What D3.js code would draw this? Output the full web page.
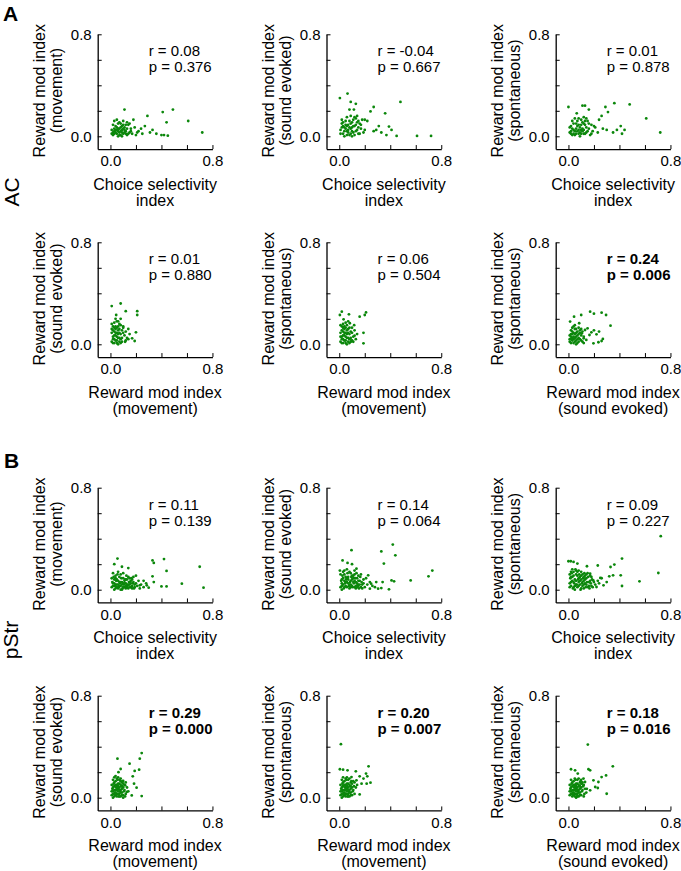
<!DOCTYPE html>
<html>
<head>
<meta charset="utf-8">
<script src="https://cdn.jsdelivr.net/npm/d3@7"></script>
<style>
  body { margin: 0; background: #fff; }
  text { font-family: "Liberation Sans", Arial, Helvetica, sans-serif; }
</style>
</head>
<body>
<div id="chart"></div>
<script>
// each point is [x, y]

// AC: choice selectivity vs reward mod index (movement)
const acCsiMov = [[0.11,0.21],[0.41,0.19],[0.49,0.21],[0.29,0.16],[0.44,0.11],[0.61,0.12],[0.72,0.03],[0.18,0.13],[0.27,0.08],[0.33,0.05],[0.40,0.01],[0.45,0.005],[0.36,0.02],[0.31,0.03],[0.25,0.02],[0.22,0.04],[0.20,0.01],[0.42,0.01],
  [0.02,0.01],[0.03,0.04],[0.04,0.08],[0.05,0.02],[0.06,0.06],[0.07,0.03],[0.08,0.10],[0.09,0.05],[0.10,0.02],[0.11,0.07],[0.12,0.04],[0.13,0.01],[0.14,0.09],[0.15,0.03],[0.16,0.06],[0.17,0.02],[0.01,0.05],[0.02,0.09],[0.03,0.12],[0.04,0.03],[0.05,0.07],[0.06,0.00],[0.07,0.11],[0.08,0.04],[0.09,0.08],[0.10,0.12],[0.11,0.03],[0.12,0.09],[0.13,0.06],[0.14,0.02],[0.15,0.10],[0.03,0.06],[0.05,0.13],[0.07,0.06],[0.09,0.00],[0.11,0.05],[0.13,0.11],[0.02,0.03],[0.06,0.10],[0.10,0.06],[0.04,0.05],[0.08,0.01],[0.12,0.02],[0.16,0.04],[0.19,0.07],[0.21,0.03],[0.24,0.06],[0.06,0.04],[0.08,0.07],[0.10,0.09],[0.03,0.02],[0.05,0.05],[0.01,0.02],[0.07,0.01],[0.09,0.03]];

// AC: choice selectivity vs reward mod index (sound evoked)
const acCsiSnd = [[0.005,0.30],[0.065,0.335],[0.09,0.27],[0.13,0.255],[0.08,0.21],[0.115,0.21],[0.27,0.23],[0.36,0.18],[0.48,0.27],[0.245,0.195],[0.20,0.13],[0.31,0.08],[0.39,0.076],[0.41,0.05],[0.45,0.003],[0.61,0.003],[0.72,0.003],[0.37,0.01],[0.27,0.04],[0.29,0.05],[0.33,0.03],
  [0.01,0.05],[0.02,0.10],[0.03,0.02],[0.04,0.07],[0.05,0.12],[0.06,0.04],[0.07,0.09],[0.08,0.01],[0.09,0.06],[0.10,0.11],[0.11,0.03],[0.12,0.08],[0.13,0.14],[0.14,0.05],[0.15,0.02],[0.16,0.10],[0.17,0.06],[0.18,0.13],[0.19,0.03],[0.02,0.13],[0.03,0.08],[0.04,0.00],[0.05,0.06],[0.06,0.15],[0.07,0.03],[0.08,0.12],[0.09,0.02],[0.10,0.07],[0.11,0.13],[0.12,0.01],[0.13,0.09],[0.14,0.11],[0.15,0.07],[0.16,0.02],[0.05,0.09],[0.07,0.05],[0.09,0.10],[0.11,0.08],[0.13,0.04],[0.03,0.11],[0.06,0.01],[0.08,0.07],[0.10,0.04],[0.12,0.15],[0.04,0.04],[0.02,0.07],[0.15,0.12],[0.17,0.09],[0.20,0.05],[0.22,0.12],[0.01,0.02],[0.06,0.08],[0.10,0.00],[0.14,0.16],[0.09,0.16]];

// AC: choice selectivity vs reward mod index (spontaneous)
const acCsiSpo = [[0.0,0.23],[0.11,0.24],[0.13,0.24],[0.16,0.21],[0.29,0.23],[0.31,0.19],[0.36,0.26],[0.48,0.25],[0.61,0.14],[0.72,0.03],[0.26,0.16],[0.24,0.13],[0.20,0.08],[0.41,0.08],[0.38,0.05],[0.42,0.02],[0.44,0.05],[0.30,0.05],[0.35,0.03],[0.27,0.06],[0.065,0.18],[0.12,0.15],
  [0.01,0.03],[0.02,0.08],[0.03,0.12],[0.04,0.05],[0.05,0.01],[0.06,0.10],[0.07,0.04],[0.08,0.14],[0.09,0.07],[0.10,0.02],[0.11,0.11],[0.12,0.05],[0.13,0.09],[0.14,0.03],[0.15,0.12],[0.16,0.06],[0.17,0.01],[0.18,0.09],[0.02,0.04],[0.03,0.06],[0.04,0.10],[0.05,0.14],[0.06,0.02],[0.07,0.08],[0.08,0.05],[0.09,0.00],[0.10,0.13],[0.11,0.06],[0.12,0.02],[0.13,0.12],[0.14,0.07],[0.15,0.04],[0.01,0.07],[0.04,0.02],[0.06,0.06],[0.08,0.09],[0.10,0.05],[0.12,0.10],[0.03,0.01],[0.05,0.04],[0.07,0.12],[0.09,0.03],[0.11,0.04],[0.13,0.02],[0.16,0.10],[0.19,0.04],[0.21,0.07],[0.23,0.03],[0.02,0.02],[0.08,0.02],[0.10,0.09],[0.14,0.14],[0.18,0.02]];

// AC: reward mod index movement vs sound evoked
const acMovSnd = [[0.01,0.30],[0.08,0.32],[0.12,0.26],[0.21,0.26],[0.21,0.23],[0.045,0.23],[0.08,0.20],[0.10,0.14],[0.20,0.094],[0.17,0.047],[0.19,0.026],[0.14,0.04],[0.115,0.02],
  [0.01,0.02],[0.02,0.06],[0.03,0.10],[0.04,0.14],[0.05,0.03],[0.06,0.08],[0.07,0.12],[0.08,0.01],[0.09,0.05],[0.10,0.09],[0.01,0.16],[0.02,0.11],[0.03,0.04],[0.04,0.07],[0.05,0.18],[0.06,0.00],[0.07,0.05],[0.08,0.15],[0.09,0.11],[0.02,0.01],[0.03,0.07],[0.04,0.12],[0.05,0.09],[0.06,0.14],[0.07,0.02],[0.08,0.08],[0.03,0.17],[0.04,0.03],[0.05,0.06],[0.06,0.11],[0.02,0.14],[0.01,0.09],[0.07,0.16],[0.03,0.01],[0.05,0.13],[0.09,0.02],[0.10,0.13],[0.11,0.07],[0.12,0.10],[0.13,0.05],[0.14,0.12],[0.12,0.03],[0.15,0.08],[0.04,0.20],[0.02,0.04],[0.06,0.05],[0.08,0.04],[0.04,0.09],[0.03,0.13],[0.07,0.09],[0.05,0.01],[0.06,0.18],[0.01,0.12]];

// AC: reward mod index movement vs spontaneous
const acMovSpo = [[0.02,0.256],[0.005,0.23],[0.076,0.235],[0.034,0.196],[0.16,0.217],[0.20,0.23],[0.21,0.25],[0.19,0.09],[0.12,0.068],[0.19,0.008],[0.096,0.026],[0.117,0.15],[0.083,0.165],
  [0.01,0.02],[0.02,0.06],[0.03,0.10],[0.04,0.14],[0.05,0.03],[0.06,0.08],[0.07,0.12],[0.08,0.01],[0.09,0.05],[0.10,0.09],[0.01,0.15],[0.02,0.11],[0.03,0.04],[0.04,0.07],[0.05,0.17],[0.06,0.00],[0.07,0.05],[0.08,0.13],[0.09,0.10],[0.02,0.01],[0.03,0.07],[0.04,0.12],[0.05,0.09],[0.06,0.15],[0.07,0.02],[0.08,0.08],[0.03,0.16],[0.04,0.03],[0.05,0.06],[0.06,0.11],[0.02,0.14],[0.01,0.09],[0.07,0.18],[0.03,0.01],[0.05,0.13],[0.09,0.02],[0.10,0.13],[0.11,0.06],[0.12,0.11],[0.13,0.04],[0.14,0.08],[0.11,0.02],[0.02,0.04],[0.06,0.05],[0.08,0.04],[0.04,0.09],[0.03,0.13],[0.07,0.09],[0.05,0.01],[0.01,0.06],[0.10,0.03]];

// AC: reward mod index sound evoked vs spontaneous
const acSndSpo = [[0.044,0.217],[0.013,0.178],[0.084,0.165],[0.10,0.23],[0.17,0.256],[0.20,0.24],[0.26,0.248],[0.295,0.23],[0.33,0.146],[0.27,0.042],[0.235,0.016],[0.196,0.008],[0.26,0.026],[0.20,0.11],[0.18,0.094],[0.15,0.125],[0.13,0.112],[0.105,0.086],[0.22,0.078],[0.24,0.10],[0.165,0.073],[0.12,0.047],[0.14,0.034],
  [0.01,0.02],[0.02,0.06],[0.03,0.10],[0.04,0.04],[0.05,0.08],[0.06,0.12],[0.07,0.01],[0.08,0.05],[0.09,0.09],[0.10,0.03],[0.01,0.07],[0.02,0.11],[0.03,0.03],[0.04,0.14],[0.05,0.02],[0.06,0.06],[0.07,0.10],[0.08,0.13],[0.09,0.04],[0.10,0.07],[0.11,0.02],[0.02,0.01],[0.03,0.05],[0.04,0.09],[0.05,0.12],[0.06,0.00],[0.07,0.07],[0.08,0.02],[0.02,0.04],[0.03,0.08],[0.04,0.06],[0.05,0.05],[0.06,0.03],[0.07,0.04],[0.01,0.04],[0.12,0.06],[0.11,0.10],[0.09,0.11],[0.02,0.08],[0.03,0.13],[0.05,0.15],[0.04,0.01],[0.08,0.08],[0.10,0.12],[0.12,0.01],[0.06,0.09]];

// pStr: choice selectivity vs reward mod index (movement)
const pstrCsiMov = [[0.055,0.244],[0.03,0.20],[0.09,0.18],[0.14,0.17],[0.20,0.11],[0.26,0.07],[0.285,0.034],[0.33,0.23],[0.34,0.21],[0.42,0.24],[0.44,0.147],[0.33,0.105],[0.34,0.06],[0.40,0.026],[0.44,0.026],[0.56,0.047],[0.70,0.18],[0.73,0.016],[0.23,0.034],[0.30,0.016],
  [0.01,0.02],[0.02,0.05],[0.03,0.08],[0.04,0.01],[0.05,0.04],[0.06,0.07],[0.07,0.10],[0.08,0.03],[0.09,0.06],[0.10,0.09],[0.11,0.02],[0.12,0.05],[0.13,0.08],[0.14,0.01],[0.15,0.04],[0.16,0.07],[0.17,0.03],[0.18,0.06],[0.19,0.02],[0.20,0.05],
  [0.015,0.06],[0.025,0.10],[0.035,0.03],[0.045,0.07],[0.055,0.12],[0.065,0.02],[0.075,0.05],[0.085,0.09],[0.095,0.01],[0.105,0.04],[0.115,0.08],[0.125,0.11],[0.135,0.03],[0.145,0.06],[0.155,0.02],[0.165,0.09],[0.175,0.05],[0.185,0.01],[0.21,0.03],[0.22,0.07],
  [0.02,0.13],[0.03,0.00],[0.04,0.09],[0.05,0.02],[0.06,0.04],[0.07,0.06],[0.08,0.12],[0.09,0.00],[0.10,0.05],[0.11,0.07],[0.12,0.01],[0.13,0.04],[0.14,0.10],[0.15,0.06],[0.16,0.02],[0.17,0.08],
  [0.01,0.09],[0.03,0.05],[0.05,0.08],[0.07,0.03],[0.09,0.04],[0.11,0.05],[0.13,0.02],[0.15,0.09],[0.17,0.01],[0.24,0.04],[0.26,0.02],[0.28,0.05],[0.02,0.03],[0.04,0.04],[0.06,0.01],[0.08,0.06],[0.10,0.02],[0.12,0.08],[0.14,0.04],[0.16,0.05],[0.06,0.14],[0.04,0.11],[0.10,0.13],[0.12,0.03],[0.08,0.00],[0.18,0.10],[0.19,0.04],[0.23,0.01]];

// pStr: choice selectivity vs reward mod index (sound evoked)
const pstrCsiSnd = [[0.096,0.31],[0.026,0.23],[0.065,0.21],[0.10,0.20],[0.33,0.30],[0.42,0.354],[0.44,0.27],[0.35,0.205],[0.005,0.15],[0.135,0.165],[0.227,0.113],[0.25,0.047],[0.29,0.06],[0.34,0.06],[0.41,0.073],[0.43,0.066],[0.39,0.003],[0.33,0.013],[0.305,0.008],[0.24,0.008],[0.56,0.073],[0.70,0.105],[0.73,0.15],
  [0.01,0.02],[0.02,0.05],[0.03,0.09],[0.04,0.12],[0.05,0.03],[0.06,0.06],[0.07,0.10],[0.08,0.01],[0.09,0.04],[0.10,0.08],[0.11,0.11],[0.12,0.02],[0.13,0.06],[0.14,0.09],[0.15,0.03],[0.16,0.07],[0.17,0.12],[0.18,0.04],[0.19,0.08],[0.20,0.02],
  [0.015,0.07],[0.025,0.11],[0.035,0.01],[0.045,0.05],[0.055,0.08],[0.065,0.13],[0.075,0.03],[0.085,0.06],[0.095,0.10],[0.105,0.02],[0.115,0.05],[0.125,0.09],[0.135,0.13],[0.145,0.04],[0.155,0.01],[0.165,0.10],[0.175,0.06],[0.21,0.09],[0.22,0.04],[0.24,0.06],
  [0.02,0.00],[0.03,0.04],[0.04,0.07],[0.05,0.10],[0.06,0.02],[0.07,0.05],[0.08,0.14],[0.09,0.07],[0.10,0.03],[0.11,0.06],[0.12,0.12],[0.13,0.01],[0.14,0.05],[0.15,0.11],[0.01,0.12],[0.03,0.14],[0.05,0.06],[0.07,0.08],[0.09,0.02],[0.11,0.09],[0.13,0.03],[0.15,0.07],[0.17,0.02],[0.19,0.05],[0.02,0.03],[0.04,0.02],[0.06,0.09],[0.08,0.04],[0.10,0.11],[0.12,0.07],[0.14,0.02],[0.16,0.04],[0.18,0.01],[0.06,0.16],[0.04,0.15],[0.26,0.03],[0.28,0.02],[0.12,0.15],[0.09,0.13],[0.02,0.08]];

// pStr: choice selectivity vs reward mod index (spontaneous)
const pstrCsiSpo = [[0.0,0.223],[0.018,0.223],[0.04,0.218],[0.07,0.205],[0.145,0.184],[0.23,0.19],[0.33,0.178],[0.36,0.197],[0.42,0.244],[0.724,0.42],[0.705,0.131],[0.557,0.066],[0.42,0.029],[0.41,0.113],[0.35,0.113],[0.32,0.105],[0.30,0.06],[0.275,0.034],[0.25,0.092],[0.22,0.021],[0.195,0.073],[0.17,0.126],
  [0.01,0.02],[0.02,0.06],[0.03,0.10],[0.04,0.14],[0.05,0.03],[0.06,0.07],[0.07,0.11],[0.08,0.15],[0.09,0.04],[0.10,0.08],[0.11,0.12],[0.12,0.01],[0.13,0.05],[0.14,0.09],[0.15,0.13],[0.16,0.03],[0.17,0.07],[0.18,0.10],[0.19,0.02],[0.20,0.06],
  [0.015,0.09],[0.025,0.13],[0.035,0.01],[0.045,0.05],[0.055,0.16],[0.065,0.04],[0.075,0.08],[0.085,0.12],[0.095,0.00],[0.105,0.05],[0.115,0.09],[0.125,0.13],[0.135,0.02],[0.145,0.06],[0.155,0.10],[0.165,0.01],[0.175,0.05],[0.185,0.08],[0.21,0.04],[0.23,0.07],
  [0.02,0.03],[0.03,0.07],[0.04,0.11],[0.05,0.00],[0.06,0.12],[0.07,0.02],[0.08,0.06],[0.09,0.10],[0.10,0.14],[0.11,0.03],[0.12,0.07],[0.13,0.11],[0.14,0.04],[0.01,0.05],[0.01,0.12],[0.03,0.16],[0.05,0.08],[0.07,0.14],[0.09,0.07],[0.11,0.06],[0.13,0.08],[0.15,0.02],[0.17,0.11],[0.02,0.10],[0.04,0.02],[0.06,0.04],[0.08,0.09],[0.10,0.01],[0.12,0.10],[0.14,0.12],[0.16,0.06],[0.18,0.03],[0.06,0.15],[0.08,0.03],[0.10,0.11],[0.12,0.04],[0.04,0.06],[0.02,0.14],[0.24,0.05],[0.26,0.09]];

// pStr: reward mod index movement vs sound evoked
const pstrMovSnd = [[0.055,0.306],[0.245,0.35],[0.23,0.306],[0.15,0.267],[0.19,0.21],[0.225,0.22],[0.08,0.225],[0.063,0.20],[0.175,0.168],[0.185,0.11],[0.205,0.079],[0.167,0.018],[0.245,0.013],[0.115,0.097],[0.128,0.045],[0.10,0.131],
  [0.01,0.02],[0.02,0.05],[0.03,0.09],[0.04,0.13],[0.05,0.03],[0.06,0.07],[0.07,0.11],[0.08,0.15],[0.09,0.04],[0.10,0.08],[0.01,0.10],[0.02,0.14],[0.03,0.01],[0.04,0.06],[0.05,0.10],[0.06,0.16],[0.07,0.03],[0.08,0.06],[0.09,0.12],[0.10,0.02],
  [0.015,0.07],[0.025,0.11],[0.035,0.04],[0.045,0.08],[0.055,0.14],[0.065,0.01],[0.075,0.05],[0.085,0.09],[0.095,0.13],[0.105,0.05],[0.115,0.01],[0.02,0.00],[0.03,0.06],[0.04,0.10],[0.05,0.15],[0.06,0.03],[0.07,0.08],[0.08,0.01],[0.09,0.07],[0.10,0.11],
  [0.02,0.08],[0.03,0.12],[0.04,0.02],[0.05,0.06],[0.06,0.11],[0.07,0.14],[0.08,0.04],[0.09,0.09],[0.11,0.06],[0.12,0.03],[0.13,0.08],[0.01,0.05],[0.03,0.16],[0.05,0.01],[0.07,0.06],[0.09,0.02],[0.11,0.10],[0.04,0.04],[0.06,0.05],[0.08,0.10],[0.02,0.03],[0.03,0.03],[0.05,0.08],[0.07,0.01],[0.06,0.09],[0.04,0.17],[0.08,0.13],[0.10,0.00],[0.12,0.12],[0.14,0.05]];

// pStr: reward mod index movement vs spontaneous
const pstrMovSpo = [[0.013,0.42],[0.005,0.223],[0.03,0.22],[0.065,0.215],[0.13,0.207],[0.16,0.168],[0.19,0.15],[0.22,0.168],[0.23,0.246],[0.21,0.189],[0.245,0.118],[0.215,0.11],[0.175,0.11],[0.16,0.026],[0.135,0.136],[0.096,0.162],
  [0.01,0.02],[0.02,0.05],[0.03,0.09],[0.04,0.13],[0.05,0.03],[0.06,0.07],[0.07,0.11],[0.08,0.15],[0.09,0.04],[0.10,0.08],[0.01,0.10],[0.02,0.14],[0.03,0.01],[0.04,0.06],[0.05,0.10],[0.06,0.16],[0.07,0.03],[0.08,0.06],[0.09,0.12],[0.10,0.02],
  [0.015,0.07],[0.025,0.11],[0.035,0.04],[0.045,0.08],[0.055,0.14],[0.065,0.01],[0.075,0.05],[0.085,0.09],[0.095,0.13],[0.105,0.05],[0.115,0.09],[0.02,0.00],[0.03,0.06],[0.04,0.10],[0.05,0.15],[0.06,0.03],[0.07,0.08],[0.08,0.01],[0.09,0.07],[0.10,0.11],
  [0.02,0.08],[0.03,0.12],[0.04,0.02],[0.05,0.06],[0.06,0.11],[0.07,0.14],[0.08,0.04],[0.09,0.09],[0.11,0.06],[0.12,0.12],[0.13,0.08],[0.01,0.05],[0.03,0.16],[0.05,0.01],[0.07,0.06],[0.09,0.02],[0.11,0.13],[0.04,0.04],[0.06,0.05],[0.08,0.10],[0.02,0.03],[0.03,0.03],[0.05,0.08],[0.07,0.01],[0.06,0.09],[0.12,0.03],[0.14,0.10]];

// pStr: reward mod index sound evoked vs spontaneous
const pstrSndSpo = [[0.152,0.417],[0.348,0.246],[0.157,0.223],[0.17,0.215],[0.02,0.223],[0.052,0.215],[0.073,0.189],[0.26,0.162],[0.295,0.175],[0.235,0.123],[0.196,0.136],[0.21,0.084],[0.23,0.076],[0.30,0.031],[0.13,0.123],[0.105,0.11],[0.144,0.07],[0.17,0.058],[0.118,0.15],
  [0.01,0.02],[0.02,0.05],[0.03,0.09],[0.04,0.13],[0.05,0.03],[0.06,0.07],[0.07,0.11],[0.08,0.15],[0.09,0.04],[0.10,0.08],[0.11,0.12],[0.01,0.10],[0.02,0.14],[0.03,0.01],[0.04,0.06],[0.05,0.10],[0.06,0.00],[0.07,0.03],[0.08,0.06],[0.09,0.12],[0.10,0.02],
  [0.015,0.07],[0.025,0.11],[0.035,0.04],[0.045,0.08],[0.055,0.14],[0.065,0.01],[0.075,0.05],[0.085,0.09],[0.095,0.13],[0.105,0.05],[0.115,0.09],[0.125,0.03],[0.03,0.06],[0.04,0.10],[0.05,0.15],[0.06,0.03],[0.07,0.08],[0.08,0.01],[0.09,0.07],[0.10,0.11],
  [0.02,0.08],[0.03,0.12],[0.04,0.02],[0.05,0.06],[0.06,0.11],[0.07,0.14],[0.08,0.04],[0.09,0.09],[0.11,0.06],[0.12,0.10],[0.13,0.07],[0.01,0.05],[0.05,0.01],[0.07,0.06],[0.09,0.02],[0.04,0.04],[0.06,0.05],[0.08,0.10],[0.02,0.03],[0.03,0.03],[0.05,0.08],[0.07,0.01],[0.06,0.09],[0.12,0.01],[0.14,0.04],[0.10,0.14]];

const panelPoints = [acCsiMov, acCsiSnd, acCsiSpo, acMovSnd, acMovSpo, acSndSpo,
                     pstrCsiMov, pstrCsiSnd, pstrCsiSpo, pstrMovSnd, pstrMovSpo, pstrSndSpo];

// axis labels for one area (same for AC and pStr)
const xLabels = [["Choice selectivity", "index"], ["Choice selectivity", "index"], ["Choice selectivity", "index"],
                 ["Reward mod index", "(movement)"], ["Reward mod index", "(movement)"], ["Reward mod index", "(sound evoked)"]];
const yLabels = [["Reward mod index", "(movement)"], ["Reward mod index", "(sound evoked)"], ["Reward mod index", "(spontaneous)"],
                 ["Reward mod index", "(sound evoked)"], ["Reward mod index", "(spontaneous)"], ["Reward mod index", "(spontaneous)"]];

const rValues = ["0.08", "-0.04", "0.01", "0.01", "0.06", "0.24", "0.11", "0.14", "0.09", "0.29", "0.20", "0.18"];
const pValues = ["0.376", "0.667", "0.878", "0.880", "0.504", "0.006", "0.139", "0.064", "0.227", "0.000", "0.007", "0.016"];
const tickValues = [0, 0.2, 0.4, 0.6, 0.8];

const width = 681, height = 871;
const colLeft = [97.7, 326.5, 555.7];
const rowTop = [34.3, 242.3, 487.7, 695.7];
const side = 114.75;
const dotColor = "#0b870b";

const svg = d3.select("#chart").append("svg")
  .attr("width", width)
  .attr("height", height)
  .style("display", "block")
  .style("background", "#fff");

const x = d3.scaleLinear().domain([-0.1, 0.8]).range([0, side]);
const y = d3.scaleLinear().domain([-0.1, 0.8]).range([side, 0]);
const tickFmt = d => (d === 0 || d === 0.8) ? d.toFixed(1) : "";

panelPoints.forEach((pts, i) => {
  const row = Math.floor(i / 3), col = i % 3;
  const g = svg.append("g").attr("transform", `translate(${colLeft[col]},${rowTop[row]})`);

  const xAxis = g.append("g")
    .attr("transform", `translate(0,${side})`)
    .call(d3.axisBottom(x).tickValues(tickValues).tickFormat(tickFmt).tickSize(-4).tickSizeOuter(0).tickPadding(6.5));
  const yAxis = g.append("g")
    .call(d3.axisLeft(y).tickValues(tickValues).tickFormat(tickFmt).tickSize(-4).tickSizeOuter(0).tickPadding(6));

  [xAxis, yAxis].forEach(a => {
    a.attr("font-size", 15).attr("font-family", null);
    a.select(".domain").attr("stroke", "#000").attr("stroke-width", 1.3);
    a.selectAll(".tick line").attr("stroke", "#000").attr("stroke-width", 1);
    a.selectAll(".tick text").attr("fill", "#000");
  });

  g.selectAll("circle")
    .data(pts)
    .join("circle")
    .attr("cx", d => x(d[0]))
    .attr("cy", d => y(d[1]))
    .attr("r", 1.4)
    .attr("fill", dotColor);

  const bold = +pValues[i] < 0.05;
  g.append("text")
    .attr("x", 51).attr("y", 22)
    .attr("font-size", 15)
    .attr("font-weight", bold ? "bold" : "normal")
    .text(`r = ${rValues[i]}`);
  g.append("text")
    .attr("x", 51).attr("y", 38)
    .attr("font-size", 15)
    .attr("font-weight", bold ? "bold" : "normal")
    .text(`p = ${pValues[i]}`);

  // x label, two lines
  xLabels[i % 6].forEach((t, k) => {
    g.append("text")
      .attr("x", side / 2).attr("y", side + 41 + k * 16)
      .attr("text-anchor", "middle")
      .attr("font-size", 16)
      .text(t);
  });
  // y label, rotated
  yLabels[i % 6].forEach((t, k) => {
    g.append("text")
      .attr("transform", `translate(${-53 + k * 17},${side / 2 - 1}) rotate(-90)`)
      .attr("text-anchor", "middle")
      .attr("font-size", 16)
      .text(t);
  });
});

// panel letters and area names
svg.append("text").attr("x", 3).attr("y", 21).attr("font-size", 21).attr("font-weight", "bold").text("A");
svg.append("text").attr("x", 4).attr("y", 468).attr("font-size", 21).attr("font-weight", "bold").text("B");
svg.append("text").attr("transform", "translate(19,192) rotate(-90)").attr("text-anchor", "middle").attr("font-size", 21).text("AC");
svg.append("text").attr("transform", "translate(18,640) rotate(-90)").attr("text-anchor", "middle").attr("font-size", 21).text("pStr");
</script>
</body>
</html>
